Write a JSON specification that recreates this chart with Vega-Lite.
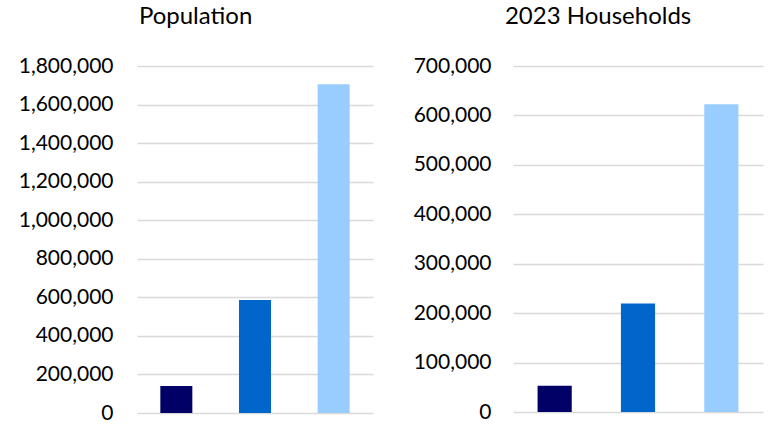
{
  "$schema": "https://vega.github.io/schema/vega-lite/v6.json",
  "background": "white",
  "padding": {"left": 18, "top": 5, "right": 5, "bottom": 14},
  "spacing": 40,
  "config": {
    "view": {"stroke": null},
    "font": "Lato",
    "axis": {"labelFont": "Lato", "labelFontSize": 21, "labelColor": "#000000", "domain": false, "ticks": false, "gridColor": "#d9d9d9", "gridWidth": 1.5, "title": null},
    "title": {"font": "Lato", "fontSize": 24, "fontWeight": "normal", "color": "#000000", "frame": "bounds", "anchor": "middle", "offset": 26}
  },
  "datasets": {
    "pop": [
      {"area": "Area 1", "value": 140000},
      {"area": "Area 2", "value": 586000},
      {"area": "Area 3", "value": 1705000}
    ],
    "hh": [
      {"area": "Area 1", "value": 53300},
      {"area": "Area 2", "value": 219400},
      {"area": "Area 3", "value": 622400}
    ]
  },
  "hconcat": [
    {
      "title": {"text": "Population"},
      "data": {"name": "pop"},
      "width": 236,
      "height": 347,
      "mark": {"type": "bar"},
      "encoding": {
        "x": {"field": "area", "type": "nominal", "axis": null, "scale": {"paddingInner": 0.593, "paddingOuter": 0.2965}},
        "y": {"field": "value", "type": "quantitative", "scale": {"domain": [0, 1800000], "nice": false}, "axis": {"values": [0, 200000, 400000, 600000, 800000, 1000000, 1200000, 1400000, 1600000, 1800000], "format": ",d", "labelPadding": 24}},
        "color": {"field": "area", "type": "nominal", "legend": null, "scale": {"domain": ["Area 1", "Area 2", "Area 3"], "range": ["#000066", "#0066cc", "#99ccff"]}}
      }
    },
    {
      "title": {"text": "2023 Households", "dx": 10},
      "data": {"name": "hh"},
      "width": 250,
      "height": 346,
      "mark": {"type": "bar"},
      "encoding": {
        "x": {"field": "area", "type": "nominal", "axis": null, "scale": {"paddingInner": 0.59, "paddingOuter": 0.295}},
        "y": {"field": "value", "type": "quantitative", "scale": {"domain": [0, 700000], "nice": false}, "axis": {"values": [0, 100000, 200000, 300000, 400000, 500000, 600000, 700000], "format": ",d", "labelPadding": 22}},
        "color": {"field": "area", "type": "nominal", "legend": null, "scale": {"domain": ["Area 1", "Area 2", "Area 3"], "range": ["#000066", "#0066cc", "#99ccff"]}}
      }
    }
  ]
}
